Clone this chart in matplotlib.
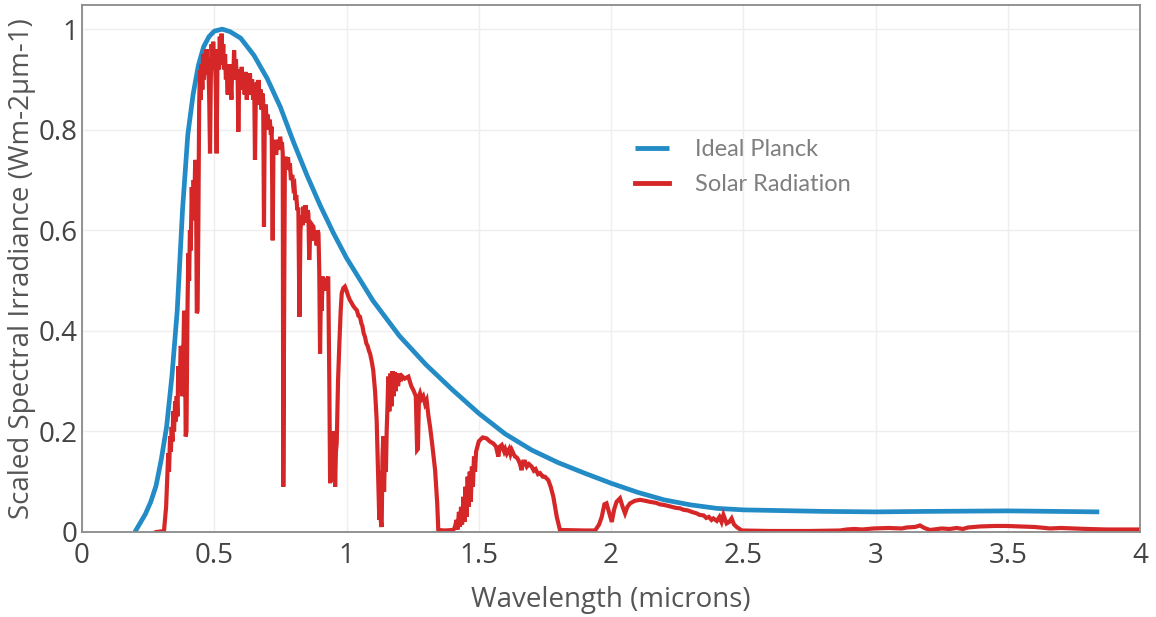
import matplotlib
matplotlib.use("Agg")
import matplotlib.pyplot as plt
from matplotlib.ticker import FuncFormatter

# ---------------- data ----------------
planck_x = [0.2, 0.22, 0.24, 0.26, 0.28, 0.3, 0.32, 0.34, 0.36, 0.38,
            0.4, 0.42, 0.44, 0.46, 0.48, 0.5, 0.53, 0.56, 0.6, 0.65,
            0.7, 0.75, 0.8, 0.85, 0.9, 0.95, 1.0, 1.1, 1.2, 1.3,
            1.4, 1.5, 1.6, 1.7, 1.8, 1.9, 2.0, 2.1, 2.2, 2.3,
            2.4, 2.5, 2.6, 2.8, 3.0, 3.2, 3.5, 3.846]
planck_y = [0.0, 0.018, 0.036, 0.06, 0.092, 0.145, 0.21, 0.31, 0.44, 0.64,
            0.79, 0.87, 0.928, 0.965, 0.985, 0.996, 1.0, 0.995, 0.982, 0.948,
            0.902, 0.845, 0.775, 0.71, 0.65, 0.595, 0.545, 0.46, 0.39, 0.333,
            0.283, 0.236, 0.195, 0.163, 0.138, 0.117, 0.097, 0.079, 0.064, 0.054,
            0.047, 0.044, 0.043, 0.041, 0.04, 0.041, 0.042, 0.04]

# solar spectrum as (wavelength, scaled irradiance) pairs
solar_xy = [
    (0.282, 0.0), (0.31, 0.002), (0.318, 0.05), (0.326, 0.157), (0.329, 0.12),
    (0.333, 0.19), (0.336, 0.16), (0.339, 0.209), (0.342, 0.18), (0.345, 0.24),
    (0.348, 0.2), (0.352, 0.26), (0.355, 0.22), (0.358, 0.27), (0.361, 0.23),
    (0.364, 0.33), (0.367, 0.28), (0.37, 0.29), (0.373, 0.37), (0.377, 0.36),
    (0.38, 0.27), (0.383, 0.356), (0.386, 0.44), (0.389, 0.42), (0.392, 0.19),
    (0.395, 0.2), (0.399, 0.45), (0.402, 0.554), (0.405, 0.5), (0.408, 0.6),
    (0.411, 0.56), (0.415, 0.686), (0.418, 0.62), (0.422, 0.7), (0.425, 0.66),
    (0.428, 0.74), (0.431, 0.7), (0.434, 0.435), (0.437, 0.44), (0.44, 0.62),
    (0.443, 0.85), (0.446, 0.918), (0.449, 0.86), (0.452, 0.93), (0.455, 0.88),
    (0.458, 0.95), (0.461, 0.9), (0.465, 0.952), (0.468, 0.91), (0.471, 0.96),
    (0.475, 0.92), (0.478, 0.93), (0.481, 0.86), (0.484, 0.753), (0.487, 0.9),
    (0.49, 0.97), (0.493, 0.92), (0.496, 0.975), (0.499, 0.93), (0.502, 0.96),
    (0.506, 0.88), (0.509, 0.753), (0.512, 0.93), (0.515, 0.96), (0.518, 0.92),
    (0.521, 0.985), (0.524, 0.94), (0.528, 0.991), (0.531, 0.93), (0.534, 0.97),
    (0.537, 0.92), (0.541, 0.95), (0.544, 0.9), (0.547, 0.918), (0.551, 0.87),
    (0.554, 0.93), (0.558, 0.88), (0.561, 0.9), (0.565, 0.86), (0.568, 0.93),
    (0.572, 0.9), (0.575, 0.958), (0.578, 0.92), (0.582, 0.94), (0.585, 0.9),
    (0.588, 0.92), (0.591, 0.796), (0.594, 0.89), (0.597, 0.92), (0.6, 0.88),
    (0.604, 0.925), (0.607, 0.88), (0.611, 0.91), (0.615, 0.87), (0.619, 0.915),
    (0.623, 0.86), (0.627, 0.9), (0.631, 0.87), (0.635, 0.912), (0.639, 0.87),
    (0.643, 0.9), (0.647, 0.86), (0.651, 0.89), (0.654, 0.74), (0.657, 0.86),
    (0.661, 0.895), (0.664, 0.86), (0.667, 0.899), (0.671, 0.85), (0.675, 0.88),
    (0.679, 0.84), (0.682, 0.872), (0.685, 0.86), (0.688, 0.607), (0.691, 0.83),
    (0.695, 0.85), (0.698, 0.81), (0.702, 0.83), (0.706, 0.8), (0.71, 0.82),
    (0.714, 0.79), (0.717, 0.806), (0.721, 0.58), (0.724, 0.78), (0.727, 0.76),
    (0.73, 0.773), (0.734, 0.75), (0.738, 0.77), (0.742, 0.78), (0.746, 0.76),
    (0.749, 0.786), (0.753, 0.77), (0.756, 0.775), (0.759, 0.753), (0.761, 0.09),
    (0.764, 0.4), (0.767, 0.74), (0.771, 0.746), (0.775, 0.73), (0.779, 0.745),
    (0.783, 0.72), (0.786, 0.733), (0.79, 0.7), (0.795, 0.71), (0.799, 0.686),
    (0.803, 0.69), (0.807, 0.66), (0.81, 0.67), (0.814, 0.64), (0.818, 0.645),
    (0.822, 0.428), (0.826, 0.6), (0.83, 0.63), (0.834, 0.61), (0.837, 0.647),
    (0.841, 0.62), (0.845, 0.65), (0.849, 0.615), (0.853, 0.64), (0.856, 0.633),
    (0.859, 0.541), (0.863, 0.6), (0.867, 0.58), (0.871, 0.61), (0.875, 0.607),
    (0.879, 0.58), (0.883, 0.6), (0.887, 0.57), (0.891, 0.6), (0.894, 0.594),
    (0.897, 0.52), (0.9, 0.355), (0.903, 0.47), (0.906, 0.44), (0.91, 0.508),
    (0.914, 0.48), (0.918, 0.505), (0.922, 0.48), (0.926, 0.5), (0.931, 0.508),
    (0.935, 0.3), (0.938, 0.097), (0.941, 0.18), (0.944, 0.1), (0.948, 0.2),
    (0.951, 0.11), (0.954, 0.19), (0.957, 0.09), (0.96, 0.16), (0.963, 0.177),
    (0.968, 0.3), (0.973, 0.375), (0.978, 0.44), (0.982, 0.475), (0.988, 0.485),
    (0.994, 0.488), (1.0, 0.48), (1.006, 0.47), (1.013, 0.461), (1.02, 0.455),
    (1.025, 0.45), (1.032, 0.445), (1.039, 0.441), (1.045, 0.43), (1.051, 0.428),
    (1.056, 0.415), (1.06, 0.41), (1.065, 0.395), (1.07, 0.388), (1.075, 0.375),
    (1.08, 0.37), (1.085, 0.36), (1.089, 0.355), (1.095, 0.34), (1.101, 0.322),
    (1.108, 0.28), (1.114, 0.223), (1.12, 0.1), (1.124, 0.024), (1.127, 0.12),
    (1.13, 0.02), (1.133, 0.01), (1.136, 0.15), (1.139, 0.19), (1.142, 0.08),
    (1.146, 0.17), (1.149, 0.12), (1.152, 0.203), (1.155, 0.25), (1.158, 0.309),
    (1.162, 0.24), (1.166, 0.315), (1.17, 0.25), (1.174, 0.32), (1.178, 0.27),
    (1.182, 0.318), (1.186, 0.28), (1.19, 0.315), (1.195, 0.29), (1.2, 0.315),
    (1.205, 0.3), (1.21, 0.31), (1.22, 0.305), (1.234, 0.309), (1.245, 0.29),
    (1.253, 0.282), (1.262, 0.27), (1.267, 0.163), (1.27, 0.165), (1.274, 0.27),
    (1.278, 0.276), (1.284, 0.265), (1.29, 0.27), (1.297, 0.255), (1.303, 0.262),
    (1.31, 0.23), (1.316, 0.209), (1.325, 0.17), (1.335, 0.123), (1.343, 0.057),
    (1.347, 0.004), (1.37, 0.003), (1.404, 0.004), (1.41, 0.01), (1.416, 0.024),
    (1.42, 0.005), (1.425, 0.04), (1.429, 0.01), (1.433, 0.05), (1.437, 0.015),
    (1.442, 0.07), (1.446, 0.02), (1.45, 0.09), (1.454, 0.03), (1.458, 0.11),
    (1.462, 0.05), (1.466, 0.12), (1.47, 0.06), (1.474, 0.13), (1.478, 0.09),
    (1.482, 0.15), (1.486, 0.12), (1.49, 0.16), (1.495, 0.17), (1.5, 0.18),
    (1.505, 0.183), (1.515, 0.188), (1.53, 0.186), (1.542, 0.18), (1.555, 0.176),
    (1.565, 0.17), (1.574, 0.15), (1.58, 0.17), (1.587, 0.173), (1.596, 0.16),
    (1.6, 0.165), (1.606, 0.156), (1.615, 0.165), (1.62, 0.155), (1.625, 0.163),
    (1.632, 0.155), (1.637, 0.15), (1.644, 0.148), (1.65, 0.143), (1.656, 0.135),
    (1.662, 0.123), (1.668, 0.14), (1.675, 0.14), (1.682, 0.13), (1.69, 0.135),
    (1.7, 0.13), (1.708, 0.122), (1.715, 0.125), (1.724, 0.115), (1.732, 0.117),
    (1.742, 0.11), (1.75, 0.11), (1.763, 0.103), (1.772, 0.09), (1.782, 0.07),
    (1.79, 0.045), (1.795, 0.03), (1.807, 0.004), (1.9, 0.003), (1.94, 0.003),
    (1.955, 0.015), (1.965, 0.03), (1.975, 0.055), (1.983, 0.057), (1.992, 0.04),
    (2.003, 0.02), (2.012, 0.045), (2.021, 0.06), (2.034, 0.067), (2.044, 0.05),
    (2.053, 0.037), (2.062, 0.05), (2.072, 0.057), (2.09, 0.062), (2.11, 0.064),
    (2.13, 0.062), (2.147, 0.06), (2.17, 0.058), (2.185, 0.055), (2.198, 0.054),
    (2.215, 0.052), (2.23, 0.05), (2.245, 0.048), (2.261, 0.047), (2.275, 0.044),
    (2.29, 0.043), (2.305, 0.04), (2.324, 0.037), (2.335, 0.034), (2.35, 0.033),
    (2.36, 0.028), (2.37, 0.03), (2.38, 0.024), (2.387, 0.027), (2.4, 0.022),
    (2.41, 0.03), (2.418, 0.02), (2.425, 0.034), (2.437, 0.017), (2.447, 0.02),
    (2.456, 0.027), (2.465, 0.015), (2.475, 0.01), (2.494, 0.003), (2.6, 0.002),
    (2.75, 0.002), (2.866, 0.003), (2.891, 0.005), (2.92, 0.006), (2.95, 0.005),
    (2.992, 0.007), (3.05, 0.008), (3.1, 0.007), (3.118, 0.009), (3.15, 0.01),
    (3.168, 0.013), (3.185, 0.008), (3.206, 0.004), (3.25, 0.007), (3.28, 0.006),
    (3.307, 0.008), (3.33, 0.006), (3.35, 0.009), (3.395, 0.011), (3.45, 0.012),
    (3.496, 0.012), (3.55, 0.011), (3.6, 0.01), (3.622, 0.009), (3.66, 0.007),
    (3.7, 0.008), (3.748, 0.007), (3.8, 0.006), (3.874, 0.005), (4.0, 0.005),
]
solar_x = [p[0] for p in solar_xy]
solar_y = [p[1] for p in solar_xy]

x_ticks = [0, 0.5, 1, 1.5, 2, 2.5, 3, 3.5, 4]
y_ticks = [0, 0.2, 0.4, 0.6, 0.8, 1]
series_names = ["Ideal Planck", "Solar Radiation"]
x_label = "Wavelength (microns)"
y_label = "Scaled Spectral Irradiance (Wm-2μm-1)"

BLUE = "#238bc5"
RED = "#d62728"

plt.rcParams['font.family'] = ['Open Sans', 'DejaVu Sans']

fig = plt.figure(figsize=(11.56, 6.17), dpi=100)
ax = fig.add_axes([82 / 1156, 1 - 532 / 617, 1058 / 1156, 527 / 617])

ax.plot(planck_x, planck_y, color=BLUE, lw=3.4, label=series_names[0],
        solid_joinstyle='round', solid_capstyle='butt')
ax.plot(solar_x, solar_y, color=RED, lw=3.0, label=series_names[1],
        solid_joinstyle='miter')

ax.set_xlim(0, 4)
ax.set_ylim(0, 1.048)
ax.set_xticks(x_ticks)
ax.set_yticks(y_ticks)
fmt = FuncFormatter(lambda v, p: f"{v:g}")
ax.xaxis.set_major_formatter(fmt)
ax.yaxis.set_major_formatter(fmt)
ax.tick_params(axis='both', length=0, labelsize=20, labelcolor='#444444')
ax.tick_params(axis='x', pad=7)
ax.tick_params(axis='y', pad=3)
ax.grid(True, color='#eeeeee', lw=1)
ax.set_axisbelow(True)
for s in ax.spines.values():
    s.set_color('#8a8a8a')
    s.set_linewidth(1.3)

ax.set_xlabel(x_label, fontsize=20, color='#555555', labelpad=12)
ax.set_ylabel(y_label, fontsize=20, color='#555555')
ax.yaxis.set_label_coords(-0.0435, 0.5)

leg = ax.legend(loc='upper left', bbox_to_anchor=(0.523, 0.746), frameon=False,
                borderpad=0, borderaxespad=0, handlelength=1.44,
                handletextpad=1.1, labelspacing=0.59,
                prop={'family': 'Lato', 'size': 17})
for t in leg.get_texts():
    t.set_color('#7f7f7f')
for h in leg.get_lines():
    h.set_linewidth(3.5)

fig.savefig("out.png", dpi=100)
